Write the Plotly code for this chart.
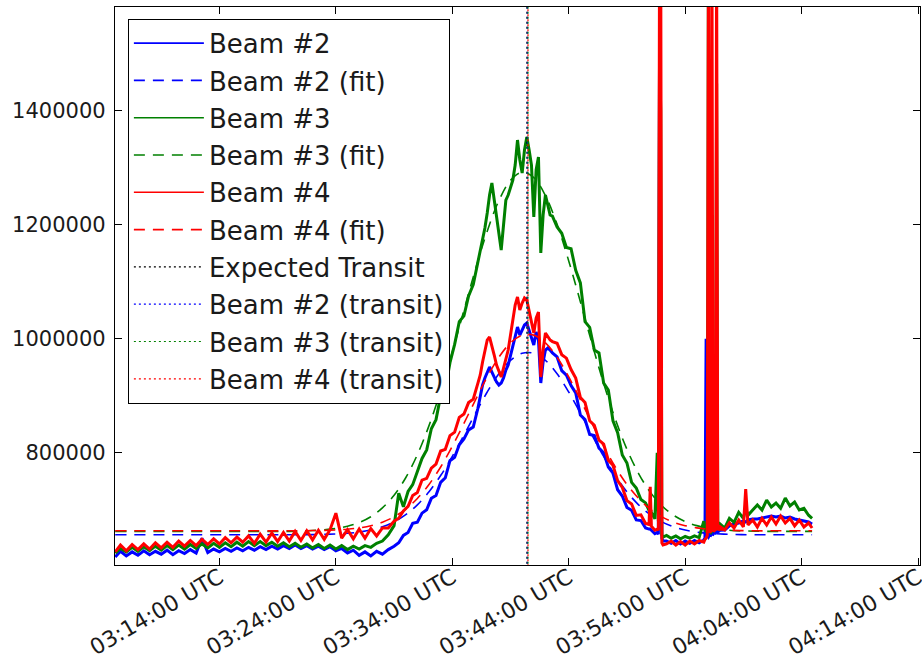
import plotly.graph_objects as go
from datetime import datetime, timedelta

BASE = datetime(2000, 1, 1, 3, 0, 0)

# sample times in minutes after 03:00 UTC
t_data = [
    5.05, 5.5, 6.0, 6.5, 7.0, 7.5, 8.0, 8.5, 9.0, 9.5,
    10.0, 10.5, 11.0, 11.5, 12.0, 12.5, 13.0, 13.5, 14.0, 14.5,
    15.0, 15.5, 16.0, 16.5, 17.0, 17.5, 18.0, 18.5, 19.0, 19.5,
    20.0, 20.5, 21.0, 21.5, 22.0, 22.5, 23.0, 23.5, 24.0, 24.5,
    25.0, 25.5, 26.0, 26.5, 27.0, 27.5, 28.0, 28.5, 29.0,
    29.4, 29.8, 30.2, 30.6, 31.0, 31.4, 31.8, 32.2, 32.6, 33.0,
    33.4, 33.8, 34.2, 34.6, 35.0, 35.4, 35.8, 36.2,
    36.4, 36.6, 36.8, 37.0, 37.2, 37.4, 37.6, 37.8, 38.0, 38.2,
    38.4, 38.6, 38.8, 39.0, 39.2, 39.4, 39.6, 39.8, 40.0, 40.2,
    40.4, 40.6, 40.8, 41.0, 41.2, 41.4, 41.6, 41.8, 42.0, 42.2, 42.4,
    42.6, 43.0, 43.4, 43.8, 44.2, 44.6, 45.0, 45.4, 45.8, 46.2,
    46.6, 47.0, 47.4, 47.8, 48.2, 48.6, 49.0, 49.4, 49.8, 50.2,
    50.6, 50.9, 51.0, 51.1, 51.4,
    51.6, 51.7, 51.8, 51.9, 52.0, 52.1,
    52.4, 52.8, 53.2, 53.6, 54.0, 54.4, 54.8, 55.2, 55.6,
    55.7, 55.8, 55.9, 56.0, 56.1, 56.2, 56.3, 56.4, 56.5, 56.6, 56.7, 56.8, 56.9, 57.0,
    57.4, 57.8, 58.2, 58.6, 59.0, 59.2, 59.4, 59.8, 60.2, 60.6,
    61.0, 61.4, 61.8, 62.2, 62.6, 63.0, 63.4, 63.8, 64.2, 64.6, 64.9,
]

beam2 = [
    617000, 627000, 619000, 626000, 620000, 628000, 621000, 627000, 622000, 629000,
    621000, 628000, 623000, 630000, 624000, 650000, 625000, 631000, 626000, 632000,
    627000, 633000, 628000, 634000, 629000, 635000, 630000, 636000, 631000, 637000,
    632000, 638000, 632000, 637000, 631000, 636000, 630000, 635000, 628000, 632000,
    624000, 629000, 620000, 626000, 619000, 627000, 622000, 630000, 636000,
    642000, 655000, 660000, 676000, 678000, 694000, 700000, 720000, 725000, 748000,
    756000, 786000, 792000, 814000, 824000, 840000, 845000, 878000,
    901200, 918800, 931100, 941600, 950400, 941600, 931100, 924000, 918800, 922300,
    931100, 945100, 953900, 971400, 989000, 1006500, 1020500, 1006500, 1015300, 1024000,
    1027500, 1015300, 1001200, 989000, 1011800, 997700, 922300, 959100, 980200, 983700, 980200,
    975000, 968000, 944000, 936000, 918000, 905000, 866000, 858000, 832000, 830000,
    808000, 800000, 775000, 764000, 735000, 724000, 704000, 699000, 682000, 681000,
    668000, 666000, 666000, 664000, 658000,
    660000, 657000, 1510000, 800000, 650000, 645000,
    645000, 641000, 646000, 640000, 645000, 641000, 646000, 642000, 647000,
    650000, 1000000, 655000, 652000, 656000, 655000, 658000, 657000, 660000, 659000, 662000, 661000, 663000, 664000,
    664400, 671600, 675000, 676700, 680200, 678400, 682000, 683700, 683700, 685400,
    687200, 689000, 687200, 689000, 685400, 687200, 683700, 682000, 680200, 678400, 675000,
]

beam3 = [
    624000, 632000, 626000, 634000, 627000, 635000, 628000, 636000, 629000, 637000,
    630000, 638000, 631000, 639000, 632000, 640000, 633000, 641000, 634000, 642000,
    635000, 643000, 636000, 644000, 637000, 644000, 637000, 643000, 636000, 642000,
    635000, 641000, 634000, 640000, 633000, 639000, 632000, 638000, 631000, 637000,
    630000, 636000, 631000, 637000, 634000, 641000, 645000, 656000, 672000,
    729000, 705000, 732000, 744000, 768000, 790000, 805000, 842000, 858000, 900000,
    912000, 958000, 990000, 1030000, 1040000, 1075000, 1095000, 1135000,
    1152100, 1173200, 1194200, 1220500, 1252100, 1273200, 1243300, 1211800, 1181900, 1155600,
    1199500, 1243300, 1252100, 1264400, 1278400, 1304700, 1348600, 1313500, 1290700, 1331100,
    1353900, 1331100, 1304700, 1213500, 1296000, 1318800, 1150400, 1217000, 1252100, 1234600, 1217000,
    1215000, 1196000, 1185000, 1160000, 1158000, 1120000, 1098000, 1030000, 1020000, 980000,
    975000, 922000, 910000, 856000, 835000, 796000, 782000, 748000, 738000, 718000,
    712000, 698000, 694000, 695000, 684000,
    800000, 680000, 1510000, 1400000, 656000, 652000,
    655000, 650000, 654000, 649000, 653000, 650000, 654000, 651000, 680000,
    665000, 662000, 660000, 1700000, 662000, 660000, 664000, 663000, 667000, 665000, 1448000, 668000, 670000, 675000,
    667900, 684800, 677900, 695400, 684800, 702500, 690300, 699500, 708200, 699500,
    717000, 704800, 711800, 702500, 720500, 706500, 713500, 699500, 702500, 690300, 684800,
]

beam4 = [
    626000, 638000, 628000, 639000, 630000, 640000, 631000, 642000, 633000, 643000,
    634000, 645000, 636000, 646000, 637000, 648000, 639000, 649000, 640000, 651000,
    642000, 652000, 643000, 654000, 641000, 657000, 643000, 659000, 644000, 660000,
    645000, 662000, 646000, 663000, 647000, 664000, 648000, 665000, 694000, 650000,
    665000, 649000, 666000, 650000, 667000, 654000, 668000, 668000, 680000,
    685000, 698000, 706000, 725000, 730000, 752000, 755000, 773000, 780000, 803000,
    806000, 830000, 836000, 862000, 868000, 888000, 894000, 922000,
    936300, 959100, 980200, 997700, 1003000, 989000, 971400, 953900, 941600, 932800,
    948600, 966100, 980200, 1006500, 1032800, 1059100, 1073200, 1050400, 1062600, 1071400,
    1067900, 1050400, 1032800, 1010000, 1036300, 1046800, 932800, 980200, 1010000, 1003000, 997700,
    995000, 992000, 972000, 966000, 946000, 931000, 897000, 888000, 856000, 848000,
    822000, 815000, 787000, 778000, 751000, 739000, 716000, 710000, 690000, 691000,
    676000, 674000, 740000, 671000, 664000,
    666000, 664000, 1700000, 1700000, 642000, 638000,
    640000, 645000, 638000, 644000, 638000, 645000, 640000, 646000, 643000,
    648000, 650000, 655000, 1700000, 660000, 662000, 1700000, 664000, 663000, 665000, 1700000, 668000, 666000, 670000,
    664400, 676700, 667900, 682000, 669700, 736000, 673200, 682000, 669700, 684800,
    673200, 687200, 674900, 689000, 676700, 684800, 671600, 682000, 669700, 676700, 667900,
]

# fitted curves (minutes after 03:00 UTC)
t_fit = [5.05, 10, 15, 20, 22, 24, 25, 26, 27, 28, 29, 30, 31, 32, 33, 34, 35, 36, 37, 38, 39,
         40, 41, 42, 43, 44, 45, 46, 47, 48, 49, 50, 51, 52, 53, 54, 55, 56, 58, 60, 62, 64.9]
beam2_fit = [656000, 656000, 656000, 656000, 656300, 657400, 658600, 660800, 664400, 670000,
             678700, 691300, 708600, 731400, 759900, 793500, 830800, 869400, 906500, 938400,
             961900, 974400, 974400, 961900, 938400, 906500, 869400, 830800, 793500, 759900,
             731400, 708600, 691300, 678700, 670000, 664400, 660800, 658600, 656700, 656000,
             656000, 656000]
beam3_fit = [662000, 662000, 662000, 662000, 663400, 667000, 671000, 677500, 687700, 703200,
             725400, 756100, 796600, 847500, 908300, 976900, 1050000, 1122600, 1188700, 1242300,
             1278000, 1292000, 1282600, 1251000, 1200700, 1136500, 1064800, 991300, 921400, 858900,
             806000, 763500, 730900, 707000, 690300, 679200, 672100, 667700, 663600, 662300,
             662000, 662000]
beam4_fit = [663000, 663000, 663000, 663000, 663400, 664500, 665800, 668100, 672000, 678100,
             687500, 701000, 719800, 744300, 775000, 811200, 851400, 893100, 933000, 967500,
             992800, 1006300, 1006300, 992800, 967500, 933000, 893100, 851400, 811200, 775000,
             744300, 719800, 701000, 687500, 678100, 672000, 668100, 665800, 663800, 663000,
             663000, 663000]

transit_names = ["Expected Transit", "Beam #2 (transit)", "Beam #3 (transit)", "Beam #4 (transit)"]
transit_min = [40.41, 40.45, 40.50, 40.50]
transit_colors = ["#000000", "#0000ff", "#008000", "#ff0000"]
transit_y0 = [500000, 500000, 500000, 504400]   # red dots start half a period later

tick_min = [14, 24, 34, 44, 54, 64, 74]
tick_labels = ["03:14:00 UTC", "03:24:00 UTC", "03:34:00 UTC", "03:44:00 UTC",
               "03:54:00 UTC", "04:04:00 UTC", "04:14:00 UTC"]
y_ticks = [800000, 1000000, 1200000, 1400000]

assert len(t_data) == len(beam2) == len(beam3) == len(beam4)
assert len(t_fit) == len(beam2_fit) == len(beam3_fit) == len(beam4_fit)


def ts(m):
    return (BASE + timedelta(minutes=m)).strftime("%Y-%m-%d %H:%M:%S.%f")


xd = [ts(m) for m in t_data]
xf = [ts(m) for m in t_fit]

DATA_W = 3.0
LEG_W = 1.6
FIT_W = 1.6
DASH = "11px,8px"
DOT = "2px,3px"

fig = go.Figure()
series = [
    ("Beam #2", beam2, beam2_fit, "#0000ff"),
    ("Beam #3", beam3, beam3_fit, "#008000"),
    ("Beam #4", beam4, beam4_fit, "#ff0000"),
]
for name, vals, fit, col in series:
    # legend entry (thin sample line, as in the original legend)
    fig.add_trace(go.Scatter(x=[None], y=[None], mode="lines", name=name, legendgroup=name,
                             line=dict(color=col, width=LEG_W)))
    fig.add_trace(go.Scatter(x=xd, y=vals, mode="lines", name=name, legendgroup=name,
                             showlegend=False, line=dict(color=col, width=DATA_W)))
    fig.add_trace(go.Scatter(x=xf, y=fit, mode="lines", name=name + " (fit)",
                             legendgroup=name + " (fit)", line_shape="spline",
                             line=dict(color=col, width=FIT_W, dash=DASH)))

for name, tm, col, y0 in zip(transit_names, transit_min, transit_colors, transit_y0):
    fig.add_trace(go.Scatter(x=[ts(tm), ts(tm)], y=[y0, 1700000], mode="lines", name=name,
                             legendgroup=name, line=dict(color=col, width=1.2, dash=DOT)))

axis_common = dict(showline=True, linecolor="black", linewidth=1.3, mirror="ticks",
                   ticks="inside", ticklen=7, tickwidth=1, tickcolor="black",
                   showgrid=False, zeroline=False, automargin=False)

fig.update_xaxes(type="date", range=[ts(5.03), ts(74.17)],
                 tickvals=[ts(m) for m in tick_min], ticktext=tick_labels, tickangle=-30,
                 ticklabeloverflow="allow", ticklabelstandoff=-10,
                 tickfont=dict(family="DejaVu Sans", size=22, color="#1a1a1a"),
                 **axis_common)
fig.update_yaxes(range=[603000, 1582000], tickvals=y_ticks, ticktext=[str(v) for v in y_ticks],
                 ticklabelstandoff=4,
                 tickfont=dict(family="DejaVu Sans", size=21, color="#1a1a1a"),
                 **axis_common)

fig.update_layout(
    width=922, height=665,
    margin=dict(l=115, r=2, t=7, b=100, pad=0),
    paper_bgcolor="white", plot_bgcolor="white",
    font=dict(family="DejaVu Sans", color="black"),
    showlegend=True,
    legend=dict(x=0.016, y=0.979, xanchor="left", yanchor="top",
                bgcolor="white", bordercolor="black", borderwidth=1,
                font=dict(family="DejaVu Sans", size=26, color="#1a1a1a"),
                traceorder="grouped", tracegroupgap=0.5, itemwidth=70),
)

fig.write_html("out.html")
